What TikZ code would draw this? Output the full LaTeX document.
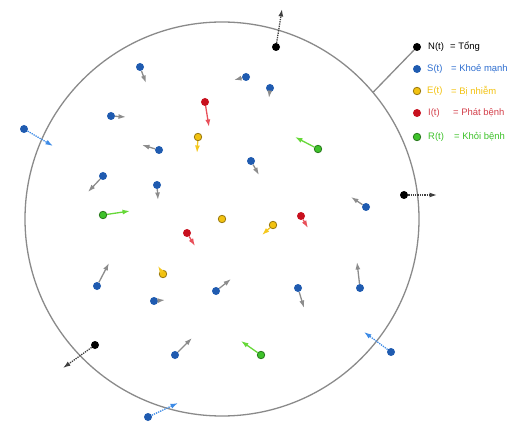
\documentclass[tikz,border=0pt]{standalone}
\usepackage{fontspec}
\setmainfont{Liberation Sans}
\usetikzlibrary{arrows.meta}
\definecolor{sblue}{HTML}{1F5BB0}
\definecolor{stext}{HTML}{2F6FD0}
\definecolor{eyel}{HTML}{F2C211}
\definecolor{eout}{HTML}{9A7A10}
\definecolor{ired}{HTML}{C8101E}
\definecolor{rgreen}{HTML}{3EC22A}
\definecolor{rout}{HTML}{2A7A1E}
\definecolor{garrow}{HTML}{8C8C8C}
\definecolor{rarrow}{HTML}{E8505A}
\definecolor{yarrow}{HTML}{F5C81E}
\definecolor{gnarrow}{HTML}{66D838}
\definecolor{barrow}{HTML}{3D8BE6}
\definecolor{ringc}{HTML}{8A8A8A}
\tikzset{
  dotbase/.style={circle,inner sep=0pt,minimum size=8bp},
  ndot/.style={dotbase,fill=black},
  sdot/.style={dotbase,fill=sblue},
  edot/.style={dotbase,fill=eyel,draw=eout,line width=0.8bp,minimum size=7.5bp},
  idot/.style={dotbase,fill=ired},
  rdot/.style={dotbase,fill=rgreen,draw=rout,line width=0.8bp,minimum size=7.5bp},
  tip/.style={-{Latex[length=7.5bp,width=5bp]}},
  garr/.style={tip,draw=garrow,line width=1.3bp},
  rarr/.style={tip,draw=rarrow,line width=1.3bp},
  yarr/.style={tip,draw=yarrow,line width=1.3bp},
  gnarr/.style={tip,draw=gnarrow,line width=1.3bp},
  barr/.style={tip,draw=barrow,line width=1.3bp,densely dotted},
  karr/.style={tip,draw=black!75,line width=1.3bp,densely dotted},
  legtext/.style={anchor=west,inner sep=0pt,font=\fontsize{9.5}{11}\selectfont},
}
\begin{document}
\begin{tikzpicture}[x=1bp,y=-1bp]
\useasboundingbox (0,0) rectangle (528,441);
\node[circle,draw=ringc,line width=1.3bp,minimum size=394bp,inner sep=0pt] (ring) at (222,219) {};

% susceptible with gray arrows
\foreach \n/\x/\y/\u/\v in {1/140/67/146/83, 2/246/77/234/80, 3/270/88/269/98,
  4/111/116/126/117, 5/159/150/142/145, 6/251/161/259/175, 7/103/176/88/192,
  8/157/185/158/200, 9/366/207/351/197, 10/97/286/109/263, 11/154/301/165/300,
  12/216/291/231/279, 13/298/288/304/308, 14/360/288/357/262, 15/175/355/192/338}{
  \node[sdot] (s\n) at (\x,\y) {};
  \coordinate (s\n e) at (\u,\v);
  \draw[garr] (s\n) -- (s\n e);
}
% susceptible crossing boundary
\foreach \n/\x/\y/\u/\v in {16/24/129/53/146, 17/148/417/178/403, 18/391/352/364/332}{
  \node[sdot] (s\n) at (\x,\y) {};
  \coordinate (s\n e) at (\u,\v);
  \draw[barr] (s\n) -- (s\n e);
}
% total (black) crossing boundary
\foreach \n/\x/\y/\u/\v in {1/276/47/282/9, 2/404/195/437/195, 3/95/345/63/368}{
  \node[ndot] (n\n) at (\x,\y) {};
  \coordinate (n\n e) at (\u,\v);
  \draw[karr] (n\n) -- (n\n e);
}
% exposed
\foreach \n/\x/\y/\u/\v in {1/198/137/197/153, 3/273/225/262/235, 4/163/274/158/266}{
  \node[edot] (e\n) at (\x,\y) {};
  \coordinate (e\n e) at (\u,\v);
  \draw[yarr] (e\n) -- (e\n e);
}
\node[edot] (e2) at (222,219) {};
% infected
\foreach \n/\x/\y/\u/\v in {1/205/102/209/127, 2/187/233/195/246, 3/301/216/308/228}{
  \node[idot] (i\n) at (\x,\y) {};
  \coordinate (i\n e) at (\u,\v);
  \draw[rarr] (i\n) -- (i\n e);
}
% recovered
\foreach \n/\x/\y/\u/\v in {1/103/215/130/211, 2/318/149/295/137, 3/261/355/241/341}{
  \node[rdot] (r\n) at (\x,\y) {};
  \coordinate (r\n e) at (\u,\v);
  \draw[gnarr] (r\n) -- (r\n e);
}

% legend
\node[ndot] (ln) at (417,47) {};
\node[sdot] (ls) at (417,69) {};
\node[edot] (le) at (417,91) {};
\node[idot] (li) at (417,113) {};
\node[rdot] (lr) at (417,137) {};
\draw[draw=ringc,line width=1.3bp] (ring.40.5) -- (ln);

\node[legtext,text=black] (tn1) at (428,47) {N(t)};
\node[legtext,text=black] (tn2) at (450,47) {= Tổng};
\node[legtext,text=stext] (ts1) at (427,69) {S(t)};
\node[legtext,text=stext] (ts2) at (451,69) {= Khoẻ mạnh};
\node[legtext,text=eyel] (te1) at (427,91) {E(t)};
\node[legtext,text=eyel] (te2) at (451,91) {= Bị nhiễm};
\node[legtext,text=ired!80!white] (ti1) at (428,113) {I(t)};
\node[legtext,text=ired!80!white] (ti2) at (453,113) {= Phát bệnh};
\node[legtext,text=rgreen] (tr1) at (428,137) {R(t)};
\node[legtext,text=rgreen] (tr2) at (454,137) {= Khỏi bệnh};
\end{tikzpicture}
\end{document}
